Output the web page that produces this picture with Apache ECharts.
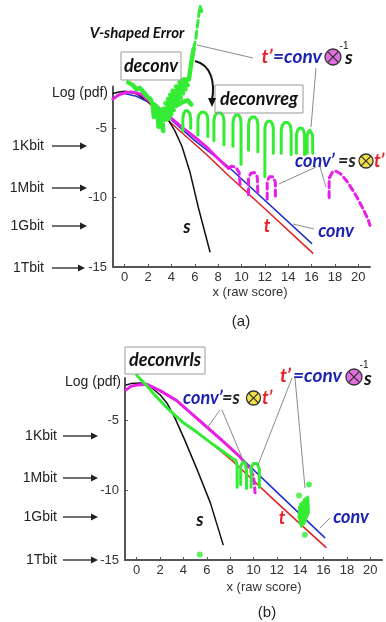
<!DOCTYPE html>
<html>
<head>
<meta charset="utf-8">
<script src="https://cdn.jsdelivr.net/npm/echarts@6/dist/echarts.min.js"></script>
<style>html,body{margin:0;padding:0;background:#fff}#main{width:386px;height:622px}</style>
</head>
<body>
<div id="main"></div>
<script>
// tick values
const xTicks = [0, 2, 4, 6, 8, 10, 12, 14, 16, 18, 20];
const yTicks = [-15, -10, -5];

// ---- panel (a) ----
const sA = [[-1,-2.5],[-0.5,-2.4],[0,-2.35],[0.5,-2.4],[1,-2.5],[2,-3.1],[3,-3.8],[3.7,-4.35],[4.3,-5.2],[4.9,-6.3],[5.6,-8.2],[6.3,-10.7],[6.8,-12.3],[7.3,-13.9]];
const tA = [[0.5,-2.4],[1.5,-2.7],[2.2,-3.3],[3,-3.9],[5,-5.4],[7,-6.9],[9,-8.5],[12,-10.8],[16.1,-14.0]];
const convA = [[0,-2.5],[1,-2.7],[2,-3.1],[3,-3.7],[4,-4.4],[6,-5.9],[8.9,-7.8],[16,-13.3]];
const convPA = [[-1,-2.9],[-0.5,-2.6],[0,-2.45],[0.5,-2.4],[1,-2.45],[1.5,-2.6],[2,-3.0],[3,-3.6],[4,-4.3],[5,-5.0],[6,-5.65],[7,-6.35],[8,-7.2],[8.9,-7.9]];
const convPBumpsA = [[8.9,-7.9],[9.1,-7.75],[9.5,-7.8],[9.8,-8.2],[9.9,-9.3],null,
  [10.6,-9.8],[10.6,-8.6],[10.8,-8.25],[11.1,-8.2],[11.35,-8.5],[11.4,-9.8],null,
  [12.2,-10.1],[12.2,-8.8],[12.4,-8.5],[12.7,-8.5],[12.9,-8.9],[12.9,-10.1],null,
  [17.5,-10.0],[17.5,-8.6],[17.8,-8.15],[18.1,-8.1],[18.5,-8.3],[19.0,-8.8],[19.4,-9.3],[19.9,-10.0],[20.4,-10.8],[20.8,-11.5],[21,-12.0]];
const tPHeadA = [[0.3,-1.7],[0.7,-1.9],[1.0,-2.2],[1.3,-2.1],[1.6,-2.4],[1.9,-2.7],[2.2,-2.9],[2.4,-3.3],[2.5,-4.2],[2.55,-3.3],[2.8,-3.5],[2.9,-4.9],[3.0,-3.7],[3.2,-4.0],[3.3,-5.2],
  [3.1,-4.5],[3.8,-4.3],[3.1,-4.0],[4.0,-4.0],[3.3,-3.6],[4.2,-3.7],[3.5,-3.2],[4.4,-3.4],[3.7,-2.9],[4.6,-3.1],[3.9,-2.6],[4.8,-2.8],[4.1,-2.3],[5.0,-2.5],[4.4,-2.0],[5.2,-2.2],[4.7,-1.7],[5.4,-1.9],[5.0,-1.5],[5.5,-1.5],[5.7,-0.3],[5.9,0.7],null,
  [4.6,-3.3],[5.0,-3.1],[5.4,-3.0],[5.7,-3.3]];
const tPSpikeA = [[5.9,0.7],[6.1,1.5],[6.25,2.5],[6.35,3.2],[6.45,3.8],[6.6,3.4]];
const tPArchesA = [
  [4.98,-5.2],[4.98,-4.3],[5.05,-3.95],[5.2,-3.75],[5.4,-3.75],[5.58,-3.95],[5.65,-4.3],[5.65,-5.0],null,
  [6.27,-5.5],[6.27,-4.4],[6.35,-4.05],[6.55,-3.85],[6.85,-3.85],[7.05,-4.05],[7.12,-4.4],[7.12,-5.6],null,
  [7.64,-5.9],[7.64,-4.45],[7.72,-4.1],[7.92,-3.9],[8.22,-3.9],[8.42,-4.1],[8.5,-4.45],[8.5,-6.2],null,
  [9.27,-6.3],[9.27,-4.6],[9.35,-4.25],[9.52,-4.05],[9.75,-4.05],[9.9,-4.25],[9.96,-4.6],[9.96,-7.6],null,
  [10.6,-6.6],[10.6,-4.75],[10.68,-4.4],[10.88,-4.2],[11.15,-4.2],[11.33,-4.4],[11.4,-4.75],[11.4,-6.7],null,
  [12.0,-8.5],[12.0,-5.0],[12.08,-4.7],[12.25,-4.5],[12.5,-4.5],[12.65,-4.7],[12.72,-5.0],[12.72,-6.8],null,
  [13.4,-6.8],[13.4,-5.15],[13.48,-4.8],[13.68,-4.6],[13.98,-4.6],[14.17,-4.8],[14.25,-5.15],[14.25,-6.9],null,
  [14.7,-6.8],[14.7,-5.5],[14.78,-5.2],[14.95,-5.0],[15.18,-5.0],[15.33,-5.2],[15.4,-5.5],[15.4,-6.9],null,
  [15.62,-6.8],[15.62,-5.6],[15.7,-5.3],[15.85,-5.15],[15.98,-5.25],[16.08,-5.5],[16.1,-6.8]];

// ---- panel (b) ----
const sB = [[-0.9,-2.5],[-0.5,-2.4],[0.3,-2.35],[1,-2.5],[2,-3.2],[2.6,-3.8],[3.3,-4.9],[4.1,-6.4],[5.2,-8.6],[6.3,-10.9],[7.4,-13.9]];
const tB = [[4,-5.2],[6.3,-6.6],[8.3,-8.0],[12,-10.9],[16.2,-14.1]];
const convB = [[3.4,-3.6],[6,-5.5],[8.8,-7.6],[12,-10.15],[16.1,-13.4]];
const convPB = [[-0.9,-2.85],[-0.5,-2.6],[0,-2.5],[0.9,-2.45],[2,-2.9],[3.4,-3.6],[4.5,-4.4],[6,-5.5],[7.5,-6.6],[8.8,-7.6],[9.3,-8.1]];
const convPBumpB = [[9.3,-8.1],[9.7,-8.5],[10.0,-9.0],[10.1,-9.8],[10.15,-10.4]];
const tPB = [[0,-1.8],[0.8,-2.5],[1.7,-3.35],[2.8,-4.3],[4.0,-5.2],[5.2,-5.9],[6.3,-6.6],[7.3,-7.2],[8.3,-7.8],[8.5,-7.9],[8.6,-8.3],[8.6,-9.8],null,
  [8.9,-9.6],[8.9,-8.3],[9.1,-8.0],[9.3,-8.1],[9.4,-8.6],[9.4,-9.9],null,
  [9.8,-9.8],[9.8,-8.4],[10.0,-8.1],[10.3,-8.1],[10.5,-8.5],[10.5,-9.8],null,
  [13.9,-12.0],[13.95,-11.2],[14.0,-12.4],[14.05,-11.0],[14.1,-12.6],[14.2,-10.9],[14.25,-12.3],[14.35,-10.7],[14.4,-12.0],[14.5,-10.6],[14.55,-11.8],[14.65,-10.5],[14.7,-11.6],[14.3,-12.4],[14.0,-12.2]];
const tPDotsB = [[13.9,-10.4],[14.75,-9.6],[14.4,-13.2],[5.4,-14.6]];

const GREEN = '#35ec35', MAG = '#e620e6', BLUE = '#1f2fd0', RED = '#e02020';
const TBLUE = '#1c22b0', TRED = '#e8202a';

let myChart = echarts.init(document.getElementById('main'));

function xAx(i) {
  return {
    type: 'value', gridIndex: i, min: -1, max: 21,
    axisLine: { show: true, onZero: false, lineStyle: { color: '#555', width: 2 } },
    axisTick: { show: true, inside: true, length: 3, customValues: xTicks, lineStyle: { color: '#555' } },
    axisLabel: { customValues: xTicks, color: '#333', fontSize: 13, fontFamily: 'Liberation Sans', margin: 4 },
    splitLine: { show: false }
  };
}
function yAx(i) {
  return {
    type: 'value', gridIndex: i, min: -15, max: -2,
    axisLine: { show: true, onZero: false, lineStyle: { color: '#555', width: 2 } },
    axisTick: { show: true, inside: true, length: 3, customValues: yTicks, lineStyle: { color: '#555' } },
    axisLabel: { customValues: yTicks, color: '#333', fontSize: 13, fontFamily: 'Liberation Sans', margin: 6 },
    splitLine: { show: false }
  };
}
function ln(data, i, color, width, z, type) {
  return {
    type: 'line', xAxisIndex: i, yAxisIndex: i, data: data, symbol: 'none', clip: false, silent: true, z: z,
    lineStyle: { color: color, width: width, type: type || 'solid', cap: 'round', join: 'round' }
  };
}
function T(x, y, text, o) {
  o = o || {};
  return { type: 'text', x: x, y: y, z: 100, style: {
    text: text, fill: o.c || '#111', fontSize: o.s || 18,
    fontWeight: o.w || 'bold', fontStyle: o.i === false ? 'normal' : 'italic',
    fontFamily: o.f || 'Lato', textAlign: o.a || 'center', textVerticalAlign: 'middle' } };
}
function P(text, x, y, a) { // plain label
  return T(x, y, text, { f: 'Liberation Sans', w: 'normal', i: false, s: 14, a: a || 'right', c: '#222' });
}
function arrow(x1, y, x2) {
  return [
    { type: 'line', z: 100, shape: { x1: x1, y1: y, x2: x2 - 5, y2: y }, style: { stroke: '#222', lineWidth: 1.3 } },
    { type: 'polygon', z: 100, shape: { points: [[x2, y], [x2 - 7, y - 3.5], [x2 - 7, y + 3.5]] }, style: { fill: '#222' } }
  ];
}
function ptr(x1, y1, x2, y2) {
  return { type: 'line', z: 100, shape: { x1: x1, y1: y1, x2: x2, y2: y2 }, style: { stroke: '#8a8a8a', lineWidth: 1 } };
}
function otimes(cx, cy, r, fill) {
  const d = r * 0.7;
  return [
    { type: 'circle', z: 100, shape: { cx: cx, cy: cy, r: r }, style: { fill: fill, stroke: '#333', lineWidth: 1.3 } },
    { type: 'line', z: 101, shape: { x1: cx - d, y1: cy - d, x2: cx + d, y2: cy + d }, style: { stroke: '#333', lineWidth: 1.3 } },
    { type: 'line', z: 101, shape: { x1: cx - d, y1: cy + d, x2: cx + d, y2: cy - d }, style: { stroke: '#333', lineWidth: 1.3 } }
  ];
}
function box(x, y, w, h) {
  return { type: 'rect', z: 99, shape: { x: x, y: y, width: w, height: h }, style: { fill: 'transparent', stroke: '#999', lineWidth: 1 } };
}

const graphics = [].concat(
  // panel (a)
  T(137, 33, 'V-shaped Error', { s: 15 }),
  box(121, 52, 60, 28), T(151, 66, 'deconv'),
  box(215, 85, 88, 28), T(259, 99, 'deconvreg'),
  { type: 'bezierCurve', z: 100, shape: { x1: 195, y1: 61, cpx1: 212, cpy1: 65, cpx2: 215, cpy2: 84, x2: 212, y2: 100 }, style: { stroke: '#111', lineWidth: 2, fill: null } },
  { type: 'polygon', z: 100, shape: { points: [[212, 107], [208, 98], [216, 98]] }, style: { fill: '#111' } },
  T(267, 57, 't’', { c: TRED, s: 19 }), T(273, 57, '=conv', { c: TBLUE, s: 19, a: 'left' }),
  otimes(333, 57, 8, '#e070e0'), T(344, 46, '-1', { f: 'Liberation Sans', w: 'normal', i: false, s: 10 }),
  T(345, 58, 's', { s: 19, a: 'left' }),
  ptr(253, 58, 197, 45), ptr(316, 68, 311, 127),
  T(295, 161, 'conv’', { c: TBLUE, s: 18, a: 'left' }), T(338, 161, '=s', { c: '#222', s: 18, a: 'left' }),
  otimes(366, 161, 7, '#f2e24a'), T(374, 161, 't’', { c: TRED, s: 18, a: 'left' }),
  ptr(316, 167, 279, 184), ptr(320, 167, 326, 187),
  T(187, 227, 's'), T(267, 226, 't', { c: TRED }), T(336, 231, 'conv', { c: TBLUE }),
  ptr(314, 229, 293, 224),
  T(250, 292, 'x (raw score)', { f: 'Liberation Sans', w: 'normal', i: false, s: 13, c: '#333' }),
  T(241, 322, '(a)', { f: 'Liberation Sans', w: 'normal', i: false, s: 15, c: '#222' }),
  P('Log (pdf)', 108, 93),
  P('1Kbit', 44, 146), arrow(52, 146, 87),
  P('1Mbit', 44, 188), arrow(52, 188, 87),
  P('1Gbit', 44, 226), arrow(52, 226, 87),
  P('1Tbit', 44, 268), arrow(52, 268, 85),
  // panel (b)
  box(125, 347, 80, 27), T(165, 360.5, 'deconvrls'),
  P('Log (pdf)', 121, 382),
  T(183, 398, 'conv’', { c: TBLUE, s: 18, a: 'left' }), T(222, 398, '=s', { c: '#222', s: 18, a: 'left' }),
  otimes(253.5, 398, 7, '#f2e24a'), T(262, 398, 't’', { c: TRED, s: 18, a: 'left' }),
  ptr(220, 410, 207, 428), ptr(222, 410, 243, 460),
  T(280, 376, 't’', { c: TRED, s: 19, a: 'left' }), T(293, 376, '=conv', { c: TBLUE, s: 19, a: 'left' }),
  otimes(354, 377, 8, '#e070e0'), T(364, 365, '-1', { f: 'Liberation Sans', w: 'normal', i: false, s: 10 }),
  T(364, 379, 's', { s: 19, a: 'left' }),
  ptr(292, 378, 258, 465), ptr(295, 378, 305, 488),
  T(200, 520, 's'), T(282, 518, 't', { c: TRED }), T(351, 517, 'conv', { c: TBLUE }),
  ptr(330, 518, 320, 528),
  T(264, 587, 'x (raw score)', { f: 'Liberation Sans', w: 'normal', i: false, s: 13, c: '#333' }),
  T(267, 613, '(b)', { f: 'Liberation Sans', w: 'normal', i: false, s: 15, c: '#222' }),
  P('1Kbit', 57, 436), arrow(63, 436, 98),
  P('1Mbit', 57, 478), arrow(63, 478, 98),
  P('1Gbit', 57, 517), arrow(63, 517, 98),
  P('1Tbit', 57, 560), arrow(63, 560, 98)
);

myChart.setOption({
  animation: false,
  grid: [
    { left: 113, top: 86.5, width: 257, height: 180.5, outerBoundsMode: 'none' },
    { left: 125, top: 378, width: 257, height: 182, outerBoundsMode: 'none' }
  ],
  xAxis: [xAx(0), xAx(1)],
  yAxis: [yAx(0), yAx(1)],
  series: [
    ln(tA, 0, RED, 1.5, 2), ln(convA, 0, BLUE, 1.5, 3), ln(sA, 0, '#111', 1.5, 4),
    ln(convPA, 0, MAG, 3, 5), ln(convPBumpsA, 0, MAG, 3, 5, [6, 4]),
    ln(tPHeadA, 0, GREEN, 4.5, 6), ln(tPSpikeA, 0, GREEN, 3, 6, [7, 4]), ln(tPArchesA, 0, GREEN, 3, 6),
    ln(tB, 1, RED, 1.5, 2), ln(convB, 1, BLUE, 1.5, 3), ln(sB, 1, '#111', 1.5, 4),
    ln(convPB, 1, MAG, 3, 5), ln(convPBumpB, 1, MAG, 3, 5, [5, 4]),
    ln(tPB, 1, GREEN, 3, 6),
    { type: 'scatter', xAxisIndex: 1, yAxisIndex: 1, data: tPDotsB, symbolSize: 6, silent: true, clip: false, z: 6,
      itemStyle: { color: GREEN } }
  ],
  graphic: graphics
});

window.addEventListener('resize', () => { myChart.resize(); });
</script>
</body>
</html>
